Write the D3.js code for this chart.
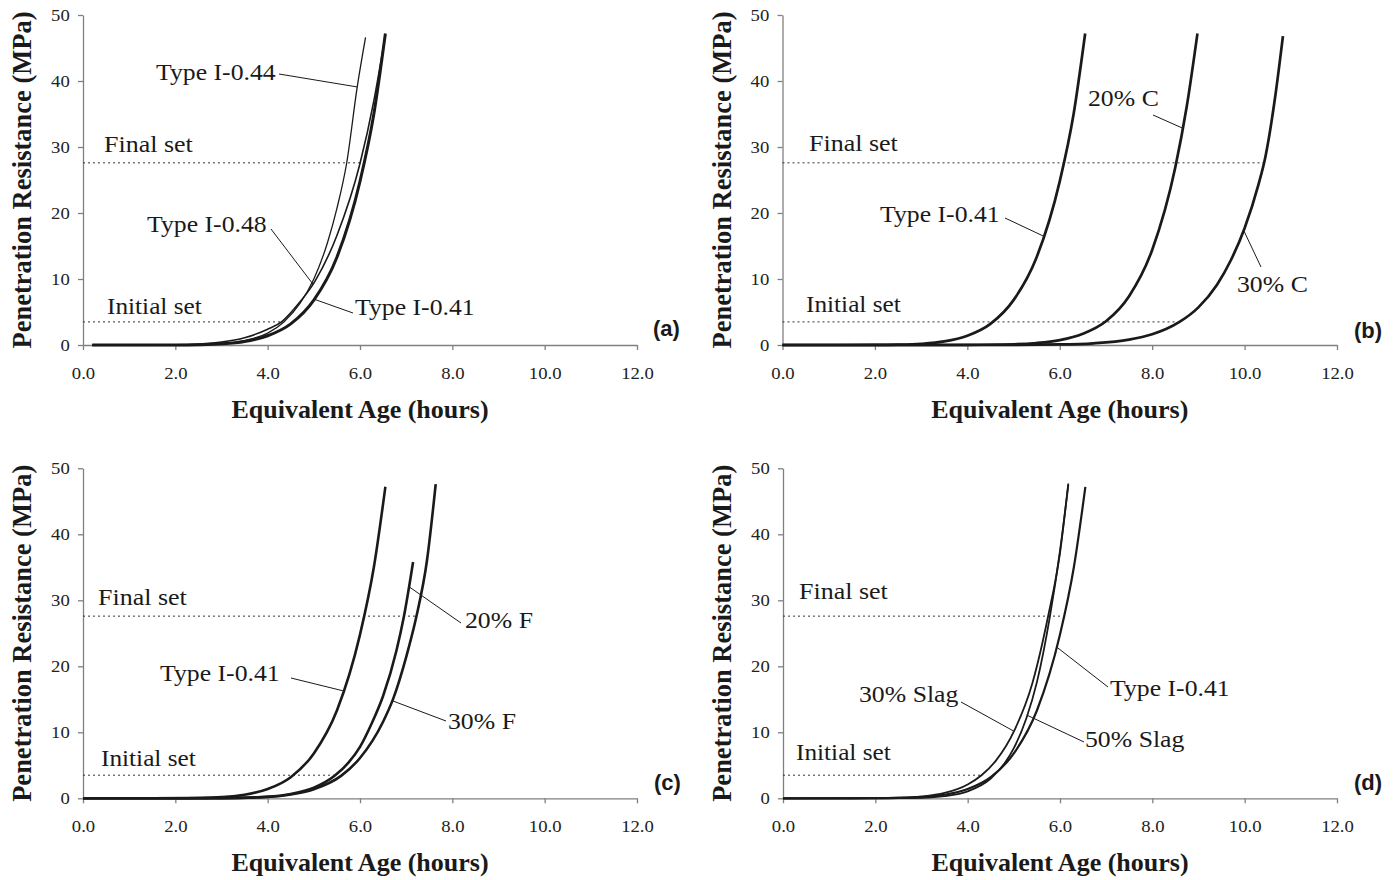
<!DOCTYPE html>
<html>
<head>
<meta charset="utf-8">
<script src="https://cdn.jsdelivr.net/npm/d3@7"></script>
<style>
  body { margin: 0; background: #fff; }
  svg { display: block; }
</style>
</head>
<body>
<svg id="fig" width="1397" height="880"></svg>
<script>
// values: [equivalent age (h), penetration resistance (MPa)]
var xTicks = [0, 2, 4, 6, 8, 10, 12];
var yTicks = [0, 10, 20, 30, 40, 50];
var finalSet = 27.6, initialSet = 3.5;

var typeI41 = [[0,0],[0.2,0],[1,0],[2,0.01],[2.5,0.05],[3,0.18],[3.5,0.54],[4,1.4],[4.5,3.2],[5,6.8],[5.5,13.3],[6,24.8],[6.3,35.0],[6.55,47.2]];
var typeI44 = [[0.2,0],[1,0],[2,0.02],[2.5,0.07],[3,0.21],[3.5,0.67],[4,1.8],[4.35,3.5],[4.7,6.3],[5,10.0],[5.3,15.6],[5.5,20.7],[5.71,27.5],[5.94,39.1],[6.12,46.6]];
var typeI48 = [[0.2,0],[1,0],[2,0.04],[2.5,0.15],[3,0.44],[3.5,1.1],[4,2.4],[4.3,3.5],[4.6,5.7],[5.02,9.6],[5.5,16.6],[6,27.5],[6.3,37.0],[6.55,47.0]];
var flyC20 = [[0,0],[3,0],[4,0.02],[5,0.11],[5.5,0.3],[6,0.74],[6.5,1.7],[7,3.6],[7.5,7.4],[8,14.4],[8.5,26.9],[8.75,36.2],[8.98,47.2]];
var flyC30 = [[0,0],[4,0],[5,0.02],[6,0.08],[6.73,0.26],[7.5,0.82],[8,1.63],[8.3,2.41],[8.6,3.53],[9,5.7],[9.4,9.1],[9.7,12.8],[10,17.7],[10.3,24.3],[10.45,28.5],[10.65,37.0],[10.83,46.8]];
var flyF20 = [[0,0],[3,0.02],[4,0.24],[4.5,0.66],[5,1.6],[5.45,3.4],[5.75,5.4],[6,7.8],[6.25,11.3],[6.5,15.5],[6.79,22.4],[6.95,27.5],[7.15,35.8]];
var flyF30 = [[0,0],[3,0.02],[4,0.22],[4.5,0.58],[5,1.38],[5.59,3.4],[6,6.1],[6.5,11.6],[6.72,15.1],[7,21.4],[7.22,27.5],[7.45,36.0],[7.64,47.6]];
var slag30 = [[0,0],[2,0.03],[2.5,0.08],[3,0.27],[3.5,0.81],[4,2.1],[4.3,3.5],[4.6,5.6],[5.02,10.4],[5.4,17.4],[5.74,27.5],[6,37.2],[6.18,47.7]];
var slag50 = [[0,0],[2,0.01],[3,0.08],[3.5,0.32],[4,1.05],[4.5,3.0],[4.8,5.3],[5,7.6],[5.27,12.1],[5.5,17.6],[5.78,27.5],[6,37.5],[6.18,47.5]];

// where the dotted set lines stop (h): [initial, final]
var setEndsA = [4.30, 6.03], setEndsB = [8.55, 10.42], setEndsC = [5.45, 7.22], setEndsD = [4.32, 6.07];

var panels = [
  { tag: '(a)', x0: 83, x1: 637, top: 15, bottom: 345, start: 0.2, ends: setEndsA,
    tagPos: [653, 336], finalPos: [104, 152], initPos: [107, 314],
    series: [ { data: typeI41, w: 3 }, { data: typeI48, w: 1.6 }, { data: typeI44, w: 1.3 } ],
    labels: [
      { text: 'Type I-0.44', x: 156, y: 80, from: [279, 74], data: typeI44, at: 5.94 },
      { text: 'Type I-0.48', x: 147, y: 232, from: [271, 229], data: typeI48, at: 4.98 },
      { text: 'Type I-0.41', x: 355, y: 315, from: [353, 313], data: typeI41, at: 5.01 }
    ] },
  { tag: '(b)', x0: 782.5, x1: 1337, top: 15, bottom: 345, start: 0, ends: setEndsB,
    tagPos: [1354, 338], finalPos: [809, 151], initPos: [806, 312],
    series: [ { data: typeI41, w: 2.7 }, { data: flyC20, w: 2.7 }, { data: flyC30, w: 2.7 } ],
    labels: [
      { text: '20% C', x: 1088, y: 106, from: [1153, 115], data: flyC20, at: 8.66 },
      { text: 'Type I-0.41', x: 880, y: 222, from: [1005, 218], data: typeI41, at: 5.64 },
      { text: '30% C', x: 1237, y: 292, from: [1261, 267], data: flyC30, at: 9.98 }
    ] },
  { tag: '(c)', x0: 83, x1: 637, top: 468.3, bottom: 798.3, start: 0, ends: setEndsC,
    tagPos: [654, 790], finalPos: [98, 605], initPos: [101, 766],
    series: [ { data: typeI41, w: 2.6 }, { data: flyF20, w: 2.6 }, { data: flyF30, w: 2.6 } ],
    labels: [
      { text: '20% F', x: 465, y: 628, from: [461, 623], data: flyF20, at: 7.06 },
      { text: 'Type I-0.41', x: 160, y: 681, from: [291, 678], data: typeI41, at: 5.63 },
      { text: '30% F', x: 448, y: 729, from: [446, 721], data: flyF30, at: 6.70 }
    ] },
  { tag: '(d)', x0: 783, x1: 1337, top: 468.3, bottom: 798.3, start: 0, ends: setEndsD,
    tagPos: [1354, 790], finalPos: [799, 599], initPos: [796, 760],
    series: [ { data: typeI41, w: 2.2 }, { data: slag30, w: 1.8 }, { data: slag50, w: 1.8 } ],
    labels: [
      { text: 'Type I-0.41', x: 1110, y: 696, from: [1108, 687], data: typeI41, at: 5.92 },
      { text: '30% Slag', x: 859, y: 702, from: [961, 702], data: slag30, at: 5.0 },
      { text: '50% Slag', x: 1085, y: 747, from: [1084, 742], data: slag50, at: 5.29 }
    ] }
];

var serif = "'Liberation Serif', 'Times New Roman', serif";
var ink = '#1a1a1a';
var svg = d3.select('#fig');
svg.append('rect').attr('width', 1397).attr('height', 880).attr('fill', '#fff');

function interp(data, t) {
  var xs = data.map(function(d) { return d[0]; });
  var i = d3.bisectLeft(xs, t);
  if (i <= 0) return data[0][1];
  if (i >= data.length) return data[data.length - 1][1];
  var a = data[i - 1], b = data[i];
  return a[1] + (b[1] - a[1]) * (t - a[0]) / (b[0] - a[0]);
}

function stretchedText(g, str, x, y, size, sx) {
  return g.append('text')
    .attr('transform', 'translate(' + x + ',' + y + ') scale(' + sx + ',1)')
    .attr('font-family', serif)
    .attr('font-size', size)
    .attr('fill', ink)
    .text(str);
}

panels.forEach(function(p) {
  var x = d3.scaleLinear().domain([0, 12]).range([p.x0, p.x1]);
  var y = d3.scaleLinear().domain([0, 50]).range([p.bottom, p.top]);
  var g = svg.append('g');

  // axes
  var yAxis = d3.axisLeft(y).tickValues(yTicks).tickSize(5).tickSizeOuter(0)
    .tickPadding(7).tickFormat(d3.format('d'));
  var xAxis = d3.axisBottom(x).tickValues(xTicks).tickSize(5).tickSizeOuter(0)
    .tickPadding(17).tickFormat(d3.format('.1f'));

  [ g.append('g').attr('transform', 'translate(' + p.x0 + ',0)').call(yAxis),
    g.append('g').attr('transform', 'translate(0,' + p.bottom + ')').call(xAxis) ]
    .forEach(function(ax) {
      ax.attr('font-family', serif).attr('font-size', 17);
      ax.select('.domain').attr('stroke', '#808080').attr('stroke-width', 1.3);
      ax.selectAll('.tick line').attr('stroke', '#808080').attr('stroke-width', 1.3);
      ax.selectAll('.tick text').attr('fill', '#222')
        .attr('transform', 'scale(1.1,1)');
    });

  // set thresholds
  [[initialSet, p.ends[0]], [finalSet, p.ends[1]]].forEach(function(s) {
    g.append('line')
      .attr('x1', x(0)).attr('x2', x(s[1]))
      .attr('y1', y(s[0])).attr('y2', y(s[0]))
      .attr('stroke', '#333').attr('stroke-width', 1)
      .attr('stroke-dasharray', '2,3');
  });
  stretchedText(g, 'Final set', p.finalPos[0], p.finalPos[1], 23, 1.13);
  stretchedText(g, 'Initial set', p.initPos[0], p.initPos[1], 23, 1.1);

  // curves
  var line = d3.line()
    .x(function(d) { return x(d[0]); })
    .y(function(d) { return y(d[1]); })
    .curve(d3.curveMonotoneX);
  p.series.forEach(function(s) {
    var pts = s.data.filter(function(d) { return d[0] >= p.start; });
    g.append('path').datum(pts)
      .attr('d', line)
      .attr('fill', 'none')
      .attr('stroke', ink)
      .attr('stroke-width', s.w)
      .attr('stroke-linejoin', 'round');
  });

  // curve labels with leader lines
  p.labels.forEach(function(l) {
    g.append('line')
      .attr('x1', l.from[0]).attr('y1', l.from[1])
      .attr('x2', x(l.at)).attr('y2', y(interp(l.data, l.at)))
      .attr('stroke', ink).attr('stroke-width', 1);
    stretchedText(g, l.text, l.x, l.y, 23, 1.12);
  });

  // panel tag
  g.append('text')
    .attr('x', p.tagPos[0]).attr('y', p.tagPos[1])
    .attr('font-family', "'Liberation Sans', Arial, sans-serif")
    .attr('font-weight', 'bold').attr('font-size', 22)
    .attr('fill', ink)
    .text(p.tag);

  // axis titles
  g.append('text')
    .attr('x', (p.x0 + p.x1) / 2).attr('y', p.bottom + 73)
    .attr('text-anchor', 'middle')
    .attr('font-family', serif).attr('font-weight', 'bold').attr('font-size', 26)
    .attr('fill', ink)
    .text('Equivalent Age (hours)');
  g.append('text')
    .attr('transform', 'translate(' + (p.x0 - 52) + ',' + ((p.top + p.bottom) / 2) + ') rotate(-90)')
    .attr('text-anchor', 'middle')
    .attr('font-family', serif).attr('font-weight', 'bold').attr('font-size', 26.5)
    .attr('fill', ink)
    .text('Penetration Resistance (MPa)');
});
</script>
</body>
</html>
